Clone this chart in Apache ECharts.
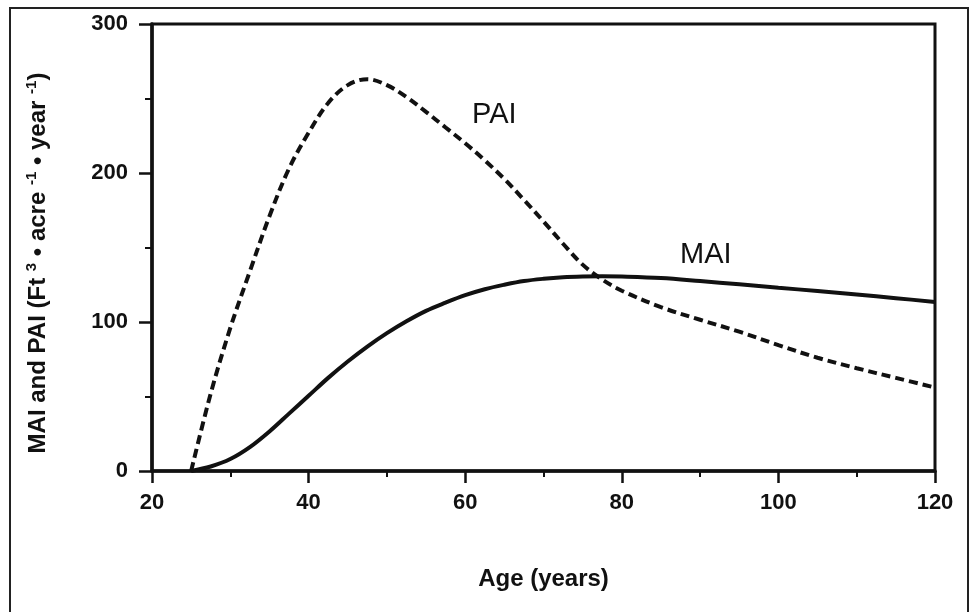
<!DOCTYPE html>
<html>
<head>
<meta charset="utf-8">
<script src="https://cdn.jsdelivr.net/npm/echarts@6/dist/echarts.min.js"></script>
<style>
  html, body { margin: 0; padding: 0; background: #fff; }
  #chart { width: 974px; height: 612px; }
</style>
</head>
<body>
<div id="chart"></div>
<script>
// Ages (years) at which values were read
var ages = [25, 27.5, 30, 32.5, 35, 37.5, 40, 42.5, 45, 47.5, 50, 52.5, 55, 57.5, 60, 62.5, 65, 67.5, 70, 72.5, 75, 77.5, 80, 85, 90, 95, 100, 105, 110, 115, 120];
// PAI (dashed) values, Ft3/acre/year
var paiValues = [0, 52, 96, 134, 171, 203, 227, 247, 259, 263, 259, 251, 241, 230.5, 220, 208.5, 196, 182, 167.5, 152.5, 138.5, 128.5, 121, 110, 101.5, 93.5, 84.5, 76, 69, 62.5, 56];
// MAI (solid) values, Ft3/acre/year
var maiValues = [0, 3, 8, 16, 26.5, 38.5, 50.5, 62.5, 73.5, 83.5, 92.5, 100.5, 107.5, 113, 118, 122, 125, 127.5, 129, 130, 130.5, 130.7, 130.5, 129.5, 127.5, 125.3, 123, 120.8, 118.5, 116, 113.5];
// Axis settings
var xTicks = [20, 40, 60, 80, 100, 120];
var yTicks = [0, 100, 200, 300];
var seriesNames = ['PAI', 'MAI'];

function pairs(xs, ys) {
  var out = [];
  for (var i = 0; i < xs.length; i++) out.push([xs[i], ys[i]]);
  return out;
}

var FONT = '"Liberation Sans", Arial, Helvetica, sans-serif';
var chart = echarts.init(document.getElementById('chart'), null, { renderer: 'canvas' });

var option = {
  backgroundColor: '#ffffff',
  animation: false,
  grid: {
    left: 152, top: 24, right: 39, bottom: 141,
    show: true, borderColor: '#111', borderWidth: 3, backgroundColor: 'transparent'
  },
  xAxis: {
    type: 'value',
    min: xTicks[0], max: xTicks[xTicks.length - 1], interval: 20,
    name: 'Age (years)', nameLocation: 'middle', nameGap: 96,
    nameTextStyle: { fontFamily: FONT, fontSize: 24, fontWeight: 'bold', color: '#111' },
    axisLine: { show: true, lineStyle: { color: '#111', width: 3.5 } },
    axisTick: { show: true, inside: false, length: 12, lineStyle: { color: '#111', width: 2.5 } },
    minorTick: { show: true, splitNumber: 2, length: 6, lineStyle: { color: '#111', width: 2 } },
    axisLabel: { margin: 21, fontFamily: FONT, fontSize: 22, fontWeight: 'bold', color: '#111' },
    splitLine: { show: false }
  },
  yAxis: {
    type: 'value',
    min: yTicks[0], max: yTicks[yTicks.length - 1], interval: 100,
    axisLine: { show: true, lineStyle: { color: '#111', width: 3.5 } },
    axisTick: { show: true, inside: false, length: 13, lineStyle: { color: '#111', width: 2.5 } },
    minorTick: { show: true, splitNumber: 2, length: 7, lineStyle: { color: '#111', width: 2 } },
    axisLabel: { margin: 24, fontFamily: FONT, fontSize: 22, fontWeight: 'bold', color: '#111' },
    splitLine: { show: false }
  },
  series: [
    {
      name: seriesNames[0], type: 'line', smooth: 0.35, symbol: 'none',
      data: pairs(ages, paiValues),
      lineStyle: { color: '#111', width: 4, type: [9, 5] }
    },
    {
      name: seriesNames[1], type: 'line', smooth: 0.35, symbol: 'none',
      data: pairs(ages, maiValues),
      lineStyle: { color: '#111', width: 4, type: 'solid' }
    }
  ],
  graphic: [
    { type: 'rect', shape: { x: 10, y: 8, width: 958, height: 620 }, style: { fill: 'none', stroke: '#222', lineWidth: 2 }, silent: true },
    {
      type: 'text', x: 38, y: 263, rotation: Math.PI / 2,
      style: {
        text: 'MAI and PAI (Ft {sup|3} \u2022 acre {sup|-1} \u2022 year {sup|-1})',
        font: 'bold 24px ' + FONT, fill: '#111', align: 'center', verticalAlign: 'middle',
        rich: { sup: { font: 'bold 15px ' + FONT, fill: '#111', verticalAlign: 'bottom', padding: [0, 0, 12, 0] } }
      }
    },
    { type: 'text', left: 472, top: 100, style: { text: seriesNames[0], font: '29px ' + FONT, fill: '#111' } },
    { type: 'text', left: 680, top: 240, style: { text: seriesNames[1], font: '29px ' + FONT, fill: '#111' } }
  ]
};
chart.setOption(option);
</script>
</body>
</html>
